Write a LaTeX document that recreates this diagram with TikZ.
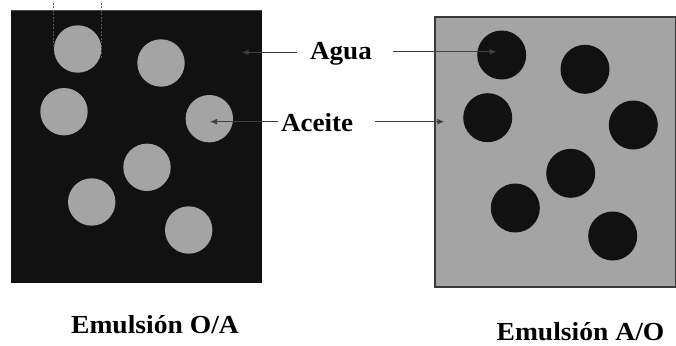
\documentclass[tikz,border=0pt]{standalone}
\usepackage{fontspec}
\setmainfont{Liberation Serif}
\usetikzlibrary{arrows.meta}
\definecolor{darkfill}{HTML}{111111}
\definecolor{lightfill}{HTML}{A4A4A4}
\definecolor{arrowcol}{HTML}{404040}
\begin{document}
\begin{tikzpicture}[x=1pt,y=-1pt,
  oildrop/.style={circle,fill=lightfill,draw=none,minimum size=47.4pt,inner sep=0pt},
  waterdrop/.style={circle,fill=darkfill,draw=none,minimum size=49pt,inner sep=0pt},
  lbl/.style={font=\fontsize{26}{26}\selectfont\bfseries,inner sep=0pt,anchor=base},
  pointer/.style={draw=arrowcol,line width=1.1pt,-{Latex[length=7pt,width=6pt]}},
  marker/.style={draw=gray!70!black,line width=0.6pt,dash pattern=on 2pt off 1.5pt}
]
\useasboundingbox (0,0) rectangle (676,345);
% boxes
\fill[darkfill] (11,10) rectangle (262,283);
\draw[line width=0.5pt,draw=gray!60!black] (11,10.3) -- (262,10.3);
\filldraw[fill=lightfill,draw=gray!45!black,line width=1.2pt] (435,17) rectangle (675.4,287);
% oil drops in water
\node[oildrop] (o1) at (77.7,49) {};
\node[oildrop] (o2) at (161,63) {};
\node[oildrop] (o3) at (64,111.7) {};
\node[oildrop] (o4) at (209.3,118.7) {};
\node[oildrop] (o5) at (147,167.3) {};
\node[oildrop] (o6) at (91.7,202) {};
\node[oildrop] (o7) at (188.7,230) {};
% water drops in oil
\node[waterdrop] (w1) at (501.7,55) {};
\node[waterdrop] (w2) at (585,69.3) {};
\node[waterdrop] (w3) at (487.7,117.7) {};
\node[waterdrop] (w4) at (633.3,125) {};
\node[waterdrop] (w5) at (570.7,173.3) {};
\node[waterdrop] (w6) at (515.3,208) {};
\node[waterdrop] (w7) at (612.7,236) {};
% diameter markers
\coordinate (m1a) at (53.5,3);
\coordinate (m1b) at (53.5,46);
\coordinate (m2a) at (101.7,3);
\coordinate (m2b) at (101.7,58);
\draw[marker] (m1a) -- (m1b);
\draw[marker] (m2a) -- (m2b);
% labels
\node[lbl] (agua) at (341,59.3) {\scalebox{1.04}[1]{Agua}};
\node[lbl] (aceite) at (317.2,131) {\scalebox{1.04}[1]{Aceite}};
\node[lbl] (oa) at (155,333.3) {\scalebox{1.06}[1]{Emulsión O/A}};
\node[lbl] (ao) at (580.5,340) {\scalebox{1.06}[1]{Emulsión A/O}};
% pointers
\coordinate (ag1) at (296.7,52.3);
\coordinate (ag1t) at (241.7,52.3);
\coordinate (ag2) at (392.7,51.8);
\coordinate (ag2t) at (496.7,51.8);
\coordinate (ac1) at (278,121.7);
\coordinate (ac1t) at (210,121.7);
\coordinate (ac2) at (375,121.7);
\coordinate (ac2t) at (444.3,121.7);
\draw[pointer] (ag1) -- (ag1t);
\draw[pointer] (ag2) -- (ag2t);
\draw[pointer] (ac1) -- (ac1t);
\draw[pointer] (ac2) -- (ac2t);
\end{tikzpicture}
\end{document}
